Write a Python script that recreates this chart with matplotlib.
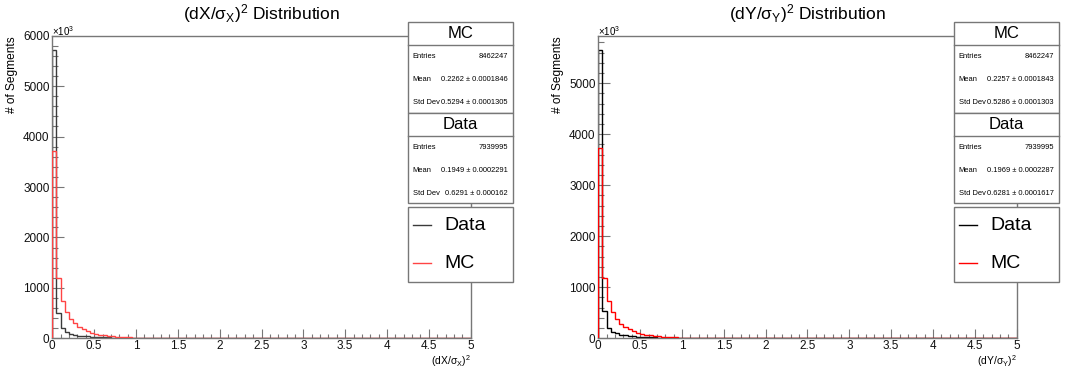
import numpy as np
import matplotlib
matplotlib.use("Agg")
import matplotlib.pyplot as plt
from matplotlib.patches import Rectangle
from matplotlib.lines import Line2D
from matplotlib.ticker import MultipleLocator

plt.rcParams["font.family"] = ["Liberation Sans", "DejaVu Sans"]
plt.rcParams["mathtext.fontset"] = "custom"
plt.rcParams["mathtext.rm"] = "Liberation Sans"
plt.rcParams["mathtext.it"] = "Liberation Sans"

# bin contents in units of 10^3 segments, 100 bins from 0 to 5
mc_dx = [
    3720, 1195, 745, 515, 385, 295, 230, 180, 142, 113,
    91, 74, 60, 49, 40, 33, 27, 22.5, 18.5, 15.5,
    13, 11, 9.2, 7.8, 6.6, 5.6, 4.8, 4.1, 3.5, 3.0,
    2.6, 2.2, 1.9, 1.65, 1.4, 1.2, 1.05, 0.9, 0.8, 0.7,
    0.6, 0.52, 0.45, 0.4, 0.35, 0.3, 0.26, 0.23, 0.2, 0.18,
    0.16, 0.14, 0.12, 0.11, 0.1, 0.09, 0.08, 0.07, 0.06, 0.05,
    0.05, 0.04, 0.04, 0.03, 0.03, 0.03, 0.02, 0.02, 0.02, 0.02,
    0.02, 0.01, 0.01, 0.01, 0.01, 0.01, 0.01, 0.01, 0.01, 0.01,
    0.01, 0.01, 0.01, 0.01, 0.01, 0.01, 0.01, 0.01, 0.01, 0.01,
    0.01, 0.01, 0.01, 0.01, 0.01, 0.01, 0.01, 0.01, 0.01, 0.01,
]
data_dx = [
    5715, 495, 200, 128, 92, 70, 55, 45, 37, 31,
    26, 22, 19, 16.5, 14.5, 12.8, 11.3, 10, 9, 8.1,
    7.3, 6.6, 6, 5.4, 4.9, 4.5, 4.1, 3.7, 3.4, 3.1,
    2.9, 2.7, 2.5, 2.3, 2.1, 1.95, 1.8, 1.7, 1.6, 1.5,
    1.4, 1.3, 1.2, 1.15, 1.1, 1.0, 0.95, 0.9, 0.85, 0.8,
    0.76, 0.72, 0.68, 0.65, 0.62, 0.59, 0.56, 0.53, 0.5, 0.48,
    0.46, 0.44, 0.42, 0.4, 0.38, 0.37, 0.35, 0.34, 0.33, 0.32,
    0.31, 0.3, 0.29, 0.28, 0.27, 0.26, 0.25, 0.25, 0.24, 0.23,
    0.23, 0.22, 0.22, 0.21, 0.21, 0.2, 0.2, 0.19, 0.19, 0.19,
    0.18, 0.18, 0.18, 0.17, 0.17, 0.17, 0.16, 0.16, 0.16, 0.16,
]
mc_dy = [
    3725, 1190, 735, 510, 375, 288, 225, 177, 140, 111,
    90, 73, 59, 48, 39.5, 32.5, 26.5, 22, 18, 15,
    12.7, 10.8, 9.1, 7.7, 6.5, 5.5, 4.7, 4.0, 3.4, 2.9,
    2.5, 2.15, 1.85, 1.6, 1.4, 1.2, 1.05, 0.9, 0.8, 0.7,
    0.6, 0.52, 0.45, 0.4, 0.35, 0.3, 0.26, 0.23, 0.2, 0.18,
    0.16, 0.14, 0.12, 0.11, 0.1, 0.09, 0.08, 0.07, 0.06, 0.05,
    0.05, 0.04, 0.04, 0.03, 0.03, 0.03, 0.02, 0.02, 0.02, 0.02,
    0.02, 0.01, 0.01, 0.01, 0.01, 0.01, 0.01, 0.01, 0.01, 0.01,
    0.01, 0.01, 0.01, 0.01, 0.01, 0.01, 0.01, 0.01, 0.01, 0.01,
    0.01, 0.01, 0.01, 0.01, 0.01, 0.01, 0.01, 0.01, 0.01, 0.01,
]
data_dy = [
    5650, 530, 210, 132, 95, 72, 56, 46, 38, 32,
    27, 23, 19.5, 17, 15, 13, 11.5, 10.2, 9.1, 8.2,
    7.4, 6.7, 6.1, 5.5, 5.0, 4.6, 4.2, 3.8, 3.5, 3.2,
    2.95, 2.75, 2.55, 2.35, 2.15, 2.0, 1.85, 1.75, 1.62, 1.52,
    1.42, 1.32, 1.23, 1.17, 1.1, 1.02, 0.96, 0.9, 0.86, 0.81,
    0.77, 0.73, 0.69, 0.66, 0.63, 0.6, 0.57, 0.54, 0.51, 0.49,
    0.47, 0.45, 0.43, 0.41, 0.39, 0.37, 0.36, 0.34, 0.33, 0.32,
    0.31, 0.3, 0.29, 0.28, 0.27, 0.26, 0.25, 0.25, 0.24, 0.23,
    0.23, 0.22, 0.22, 0.21, 0.21, 0.2, 0.2, 0.19, 0.19, 0.19,
    0.18, 0.18, 0.18, 0.17, 0.17, 0.17, 0.16, 0.16, 0.16, 0.16,
]

stat_labels = ["Entries", "Mean", "Std Dev"]
mc_stats_dx = ["8462247", "0.2262 \u00b1 0.0001846", "0.5294 \u00b1 0.0001305"]
data_stats_dx = ["7939995", "0.1949 \u00b1 0.0002291", "0.6291 \u00b1 0.000162"]
mc_stats_dy = ["8462247", "0.2257 \u00b1 0.0001843", "0.5286 \u00b1 0.0001303"]
data_stats_dy = ["7939995", "0.1969 \u00b1 0.0002287", "0.6281 \u00b1 0.0001617"]

W, H = 1081, 376
fig = plt.figure(figsize=(W / 100, H / 100), dpi=100)


def fx(px):
    return px / W


def fy(py):
    return 1 - py / H


def add_box(x0, y0, x1, y1):
    fig.patches.append(Rectangle((fx(x0), fy(y1)), fx(x1) - fx(x0), fy(y0) - fy(y1),
                                 transform=fig.transFigure, facecolor="white",
                                 edgecolor="#777777", lw=1, zorder=5))


def hline(x0, x1, y, color="#777777"):
    fig.lines.append(Line2D([fx(x0), fx(x1)], [fy(y), fy(y)], transform=fig.transFigure,
                            color=color, lw=1, zorder=6))


def stats_panel(off, mc_vals, data_vals, c_data, c_mc):
    x0, x1 = 407.7 + off, 512.7 + off
    # MC box
    add_box(x0, 22.3, x1, 113.3)
    hline(x0, x1, 45)
    fig.text(fx((x0 + x1) / 2), fy(34), "MC", ha="center", va="center", fontsize=12, zorder=7)
    for i, (lab, val) in enumerate(zip(stat_labels, mc_vals)):
        yy = 57 + i * 22.8
        fig.text(fx(x0 + 5), fy(yy), lab, ha="left", va="center", fontsize=5.4, zorder=7)
        fig.text(fx(x1 - 5), fy(yy), val, ha="right", va="center", fontsize=5.4, zorder=7)
    # Data box
    add_box(x0, 113.3, x1, 203.3)
    hline(x0, x1, 136)
    fig.text(fx((x0 + x1) / 2), fy(125), "Data", ha="center", va="center", fontsize=12, zorder=7)
    for i, (lab, val) in enumerate(zip(stat_labels, data_vals)):
        yy = 148 + i * 22.8
        fig.text(fx(x0 + 5), fy(yy), lab, ha="left", va="center", fontsize=5.4, zorder=7)
        fig.text(fx(x1 - 5), fy(yy), val, ha="right", va="center", fontsize=5.4, zorder=7)
    # legend
    add_box(x0, 206.7, x1, 281.7)
    hline(x0 + 5, x0 + 23, 225, color=c_data)
    hline(x0 + 5, x0 + 23, 263, color=c_mc)
    fig.text(fx(x0 + 37), fy(225), "Data", ha="left", va="center", fontsize=14, zorder=7)
    fig.text(fx(x0 + 37), fy(263), "MC", ha="left", va="center", fontsize=14, zorder=7)


edges = np.linspace(0, 5, 101)


def draw_panel(off, mc, data, ymax, title, xlabel, mc_vals, data_vals, c_data, c_mc):
    ax = fig.add_axes([fx(52.3 + off), fy(338.3), 418.4 / W, 302.6 / H])
    ax.stairs(np.array(data), edges, color=c_data, lw=1.0, zorder=2)
    ax.stairs(np.array(mc), edges, color=c_mc, lw=1.0, zorder=3)
    ax.set_xlim(0, 5)
    ax.set_ylim(0, ymax)
    for s in ax.spines.values():
        s.set_color("#777777")
        s.set_linewidth(1)
    ax.xaxis.set_major_locator(MultipleLocator(0.5))
    ax.xaxis.set_minor_locator(MultipleLocator(0.1))
    ax.yaxis.set_major_locator(MultipleLocator(1000))
    ax.yaxis.set_minor_locator(MultipleLocator(200))
    ax.xaxis.set_major_formatter(lambda v, p: f"{v:g}")
    ax.tick_params(axis="both", which="both", direction="in", colors="#777777",
                   labelcolor="#111111", labelsize=8.5, width=0.8, top=False, right=False)
    ax.tick_params(axis="x", which="major", length=6.5, pad=1.5)
    ax.tick_params(axis="x", which="minor", length=3.2)
    ax.tick_params(axis="y", which="major", length=8.6, pad=2)
    ax.tick_params(axis="y", which="minor", length=4.3)

    fig.text(fx(261.5 + off), fy(14), title, ha="center", va="center", fontsize=12.5)
    fig.text(fx(471 + off), fy(361), xlabel, ha="right", va="center", fontsize=7.5)
    fig.text(fx(12 + off), fy(36), "# of Segments", rotation=90, ha="center", va="top",
             fontsize=8.6)
    fig.text(fx(52 + off), fy(31), r"$\times$10$^{3}$", ha="left", va="center", fontsize=7)
    stats_panel(off, mc_vals, data_vals, c_data, c_mc)


draw_panel(0, mc_dx, data_dx, 6000, r"(dX/$\sigma_{X}$)$^{2}$ Distribution",
           r"(dX/$\sigma_{X}$)$^{2}$", mc_stats_dx, data_stats_dx, "#3a3a3a", "#ff4444")
draw_panel(546, mc_dy, data_dy, 5930, r"(dY/$\sigma_{Y}$)$^{2}$ Distribution",
           r"(dY/$\sigma_{Y}$)$^{2}$", mc_stats_dy, data_stats_dy, "black", "red")

fig.savefig("out.png", dpi=100)
